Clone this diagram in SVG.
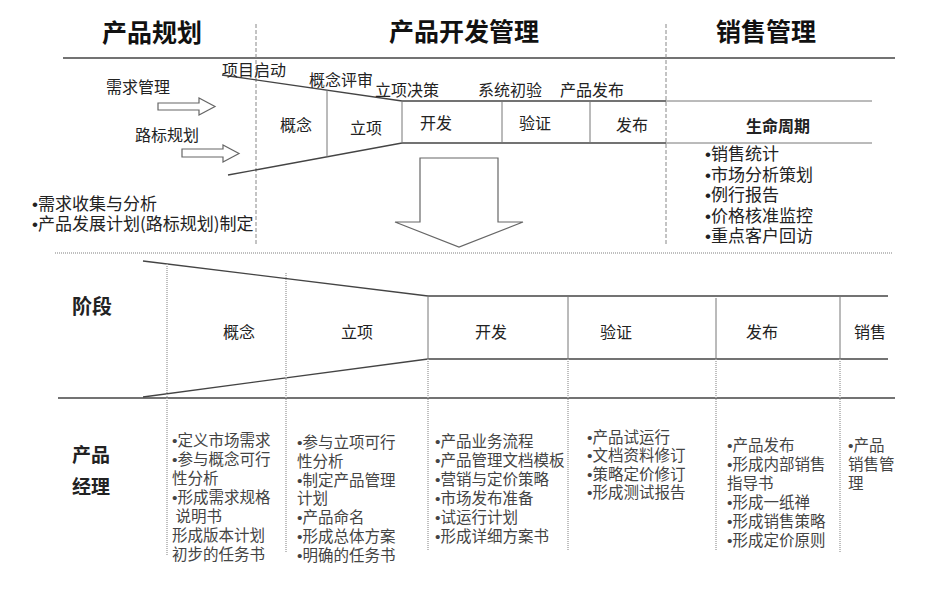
<svg xmlns="http://www.w3.org/2000/svg" width="952" height="589" viewBox="0 0 952 589">
<style>
text{font-family:"Noto Sans CJK SC","Liberation Sans",sans-serif;fill:#333}
.b{font-family:"Liberation Sans",sans-serif}
.title{font-size:25px;font-weight:bold;fill:#111}
.lbl{font-size:16px;fill:#222}
.big{font-size:17px}
.bold{font-weight:bold;fill:#222}
.item{font-size:15.5px;fill:#444}
.ln{stroke:#444;stroke-width:1.3;fill:none}
.thin{stroke:#777;stroke-width:1;fill:none}
.dash{stroke:#888;stroke-width:1;stroke-dasharray:4 2;fill:none}
.dot{stroke:#aaa;stroke-width:1.5;stroke-dasharray:1 1;fill:none}
.harrow{fill:#fff;stroke:#666;stroke-width:1.2}
</style>
<rect width="952" height="589" fill="#fff"/>

<g id="titles">
<text class="title" x="152" y="42" text-anchor="middle">产品规划</text>
<text class="title" x="464" y="41" text-anchor="middle">产品开发管理</text>
<text class="title" x="766" y="41" text-anchor="middle">销售管理</text>
</g>

<g id="connectors">
<line class="ln" x1="63" y1="58" x2="895" y2="58"/>
<line class="dash" x1="256" y1="24" x2="256" y2="246"/>
<line class="dash" x1="666" y1="24" x2="666" y2="246"/>
<line class="ln" x1="222" y1="75" x2="402" y2="101"/>
<line class="ln" x1="228" y1="175" x2="402" y2="143"/>
<line class="ln" x1="402" y1="101" x2="666" y2="101"/>
<line class="ln" x1="402" y1="143" x2="666" y2="143"/>
<line class="thin" x1="666" y1="101" x2="872" y2="101"/>
<line class="thin" x1="666" y1="143" x2="872" y2="143"/>
<line class="thin" x1="327" y1="90" x2="327" y2="157"/>
<line class="thin" x1="402" y1="101" x2="402" y2="143"/>
<line class="thin" x1="502" y1="101" x2="502" y2="143"/>
<line class="thin" x1="590" y1="101" x2="590" y2="143"/>
<line class="dot" x1="55" y1="253" x2="893" y2="253"/>
<line class="ln" x1="143" y1="261" x2="428" y2="296"/>
<line class="ln" x1="143" y1="397" x2="428" y2="359"/>
<line class="ln" x1="428" y1="296" x2="888" y2="296"/>
<line class="ln" x1="428" y1="359" x2="888" y2="359"/>
<line class="ln" x1="58" y1="398" x2="895" y2="398"/>
<line class="dot" x1="167" y1="264" x2="167" y2="555"/>
<line class="dot" x1="286" y1="273" x2="286" y2="553"/>
<line class="thin" x1="428" y1="296" x2="428" y2="359"/>
<line class="thin" x1="568" y1="296" x2="568" y2="359"/>
<line class="thin" x1="716" y1="298" x2="716" y2="359"/>
<line class="thin" x1="840" y1="296" x2="840" y2="359"/>
<line class="dot" x1="428" y1="359" x2="428" y2="550"/>
<line class="dot" x1="568" y1="359" x2="568" y2="550"/>
<line class="dot" x1="716" y1="359" x2="716" y2="550"/>
<line class="dot" x1="840" y1="359" x2="840" y2="552"/>
<polygon class="harrow" points="158,103 199,103 199,98 215,106.5 199,115 199,110 158,110"/>
<polygon class="harrow" points="182,149 223,149 223,145 239,153.5 223,162 223,157 182,157"/>
<polygon class="harrow" points="420,158 498,158 498,222 523,222 459,247 395,222 420,222"/>
</g>

<g id="planning">
<text class="lbl" x="106" y="93">需求管理</text>
<text class="lbl" x="135" y="141">路标规划</text>
<text class="lbl big"><tspan x="32" y="210"><tspan class="b">•</tspan>需求收集与分析</tspan><tspan x="32" y="230"><tspan class="b">•</tspan>产品发展计划(路标规划)制定</tspan></text>
</g>

<g id="milestones">
<text class="lbl" x="222" y="76">项目启动</text>
<text class="lbl" x="309" y="86">概念评审</text>
<text class="lbl" x="375" y="96">立项决策</text>
<text class="lbl" x="478" y="96">系统初验</text>
<text class="lbl" x="560" y="96">产品发布</text>
</g>

<g id="dev-stages">
<text class="lbl" x="280" y="131">概念</text>
<text class="lbl" x="350" y="134">立项</text>
<text class="lbl" x="420" y="129">开发</text>
<text class="lbl" x="519" y="129">验证</text>
<text class="lbl" x="616" y="131">发布</text>
</g>

<g id="lifecycle">
<text class="lbl bold" x="778" y="132" text-anchor="middle">生命周期</text>
<text class="lbl big"><tspan x="705" y="160"><tspan class="b">•</tspan>销售统计</tspan><tspan x="705" y="181"><tspan class="b">•</tspan>市场分析策划</tspan><tspan x="705" y="201"><tspan class="b">•</tspan>例行报告</tspan><tspan x="705" y="222"><tspan class="b">•</tspan>价格核准监控</tspan><tspan x="705" y="242"><tspan class="b">•</tspan>重点客户回访</tspan></text>
</g>

<g id="phase-header">
<text class="bold" x="72" y="314" style="font-size:20px">阶段</text>
<text class="lbl" x="239" y="338" text-anchor="middle">概念</text>
<text class="lbl" x="357" y="338" text-anchor="middle">立项</text>
<text class="lbl" x="491" y="338" text-anchor="middle">开发</text>
<text class="lbl" x="616" y="338" text-anchor="middle">验证</text>
<text class="lbl" x="762" y="338" text-anchor="middle">发布</text>
<text class="lbl" x="870" y="338" text-anchor="middle">销售</text>
</g>

<g id="role">
<text class="bold" style="font-size:19px"><tspan x="72" y="462">产品</tspan><tspan x="72" y="494">经理</tspan></text>
</g>

<g id="col-concept">
<text class="item"><tspan x="172" y="446"><tspan class="b">•</tspan>定义市场需求</tspan><tspan x="172" y="465"><tspan class="b">•</tspan>参与概念可行</tspan><tspan x="172" y="484">性分析</tspan><tspan x="172" y="503"><tspan class="b">•</tspan>形成需求规格</tspan><tspan x="172" y="522">&#160;说明书</tspan><tspan x="172" y="541">形成版本计划</tspan><tspan x="172" y="560">初步的任务书</tspan></text>
</g>

<g id="col-project">
<text class="item"><tspan x="297" y="448"><tspan class="b">•</tspan>参与立项可行</tspan><tspan x="297" y="467">性分析</tspan><tspan x="297" y="486"><tspan class="b">•</tspan>制定产品管理</tspan><tspan x="297" y="504">计划</tspan><tspan x="297" y="523"><tspan class="b">•</tspan>产品命名</tspan><tspan x="297" y="542"><tspan class="b">•</tspan>形成总体方案</tspan><tspan x="297" y="561"><tspan class="b">•</tspan>明确的任务书</tspan></text>
</g>

<g id="col-develop">
<text class="item"><tspan x="435" y="447"><tspan class="b">•</tspan>产品业务流程</tspan><tspan x="435" y="466"><tspan class="b">•</tspan>产品管理文档模板</tspan><tspan x="435" y="485"><tspan class="b">•</tspan>营销与定价策略</tspan><tspan x="435" y="504"><tspan class="b">•</tspan>市场发布准备</tspan><tspan x="435" y="523"><tspan class="b">•</tspan>试运行计划</tspan><tspan x="435" y="542"><tspan class="b">•</tspan>形成详细方案书</tspan></text>
</g>

<g id="col-verify">
<text class="item"><tspan x="587" y="443"><tspan class="b">•</tspan>产品试运行</tspan><tspan x="587" y="461"><tspan class="b">•</tspan>文档资料修订</tspan><tspan x="587" y="480"><tspan class="b">•</tspan>策略定价修订</tspan><tspan x="587" y="498"><tspan class="b">•</tspan>形成测试报告</tspan></text>
</g>

<g id="col-release">
<text class="item"><tspan x="727" y="451"><tspan class="b">•</tspan>产品发布</tspan><tspan x="727" y="470"><tspan class="b">•</tspan>形成内部销售</tspan><tspan x="727" y="489">指导书</tspan><tspan x="727" y="508"><tspan class="b">•</tspan>形成一纸禅</tspan><tspan x="727" y="527"><tspan class="b">•</tspan>形成销售策略</tspan><tspan x="727" y="546"><tspan class="b">•</tspan>形成定价原则</tspan></text>
</g>

<g id="col-sales">
<text class="item"><tspan x="848" y="451"><tspan class="b">•</tspan>产品</tspan><tspan x="848" y="470">销售管</tspan><tspan x="848" y="489">理</tspan></text>
</g>
</svg>
